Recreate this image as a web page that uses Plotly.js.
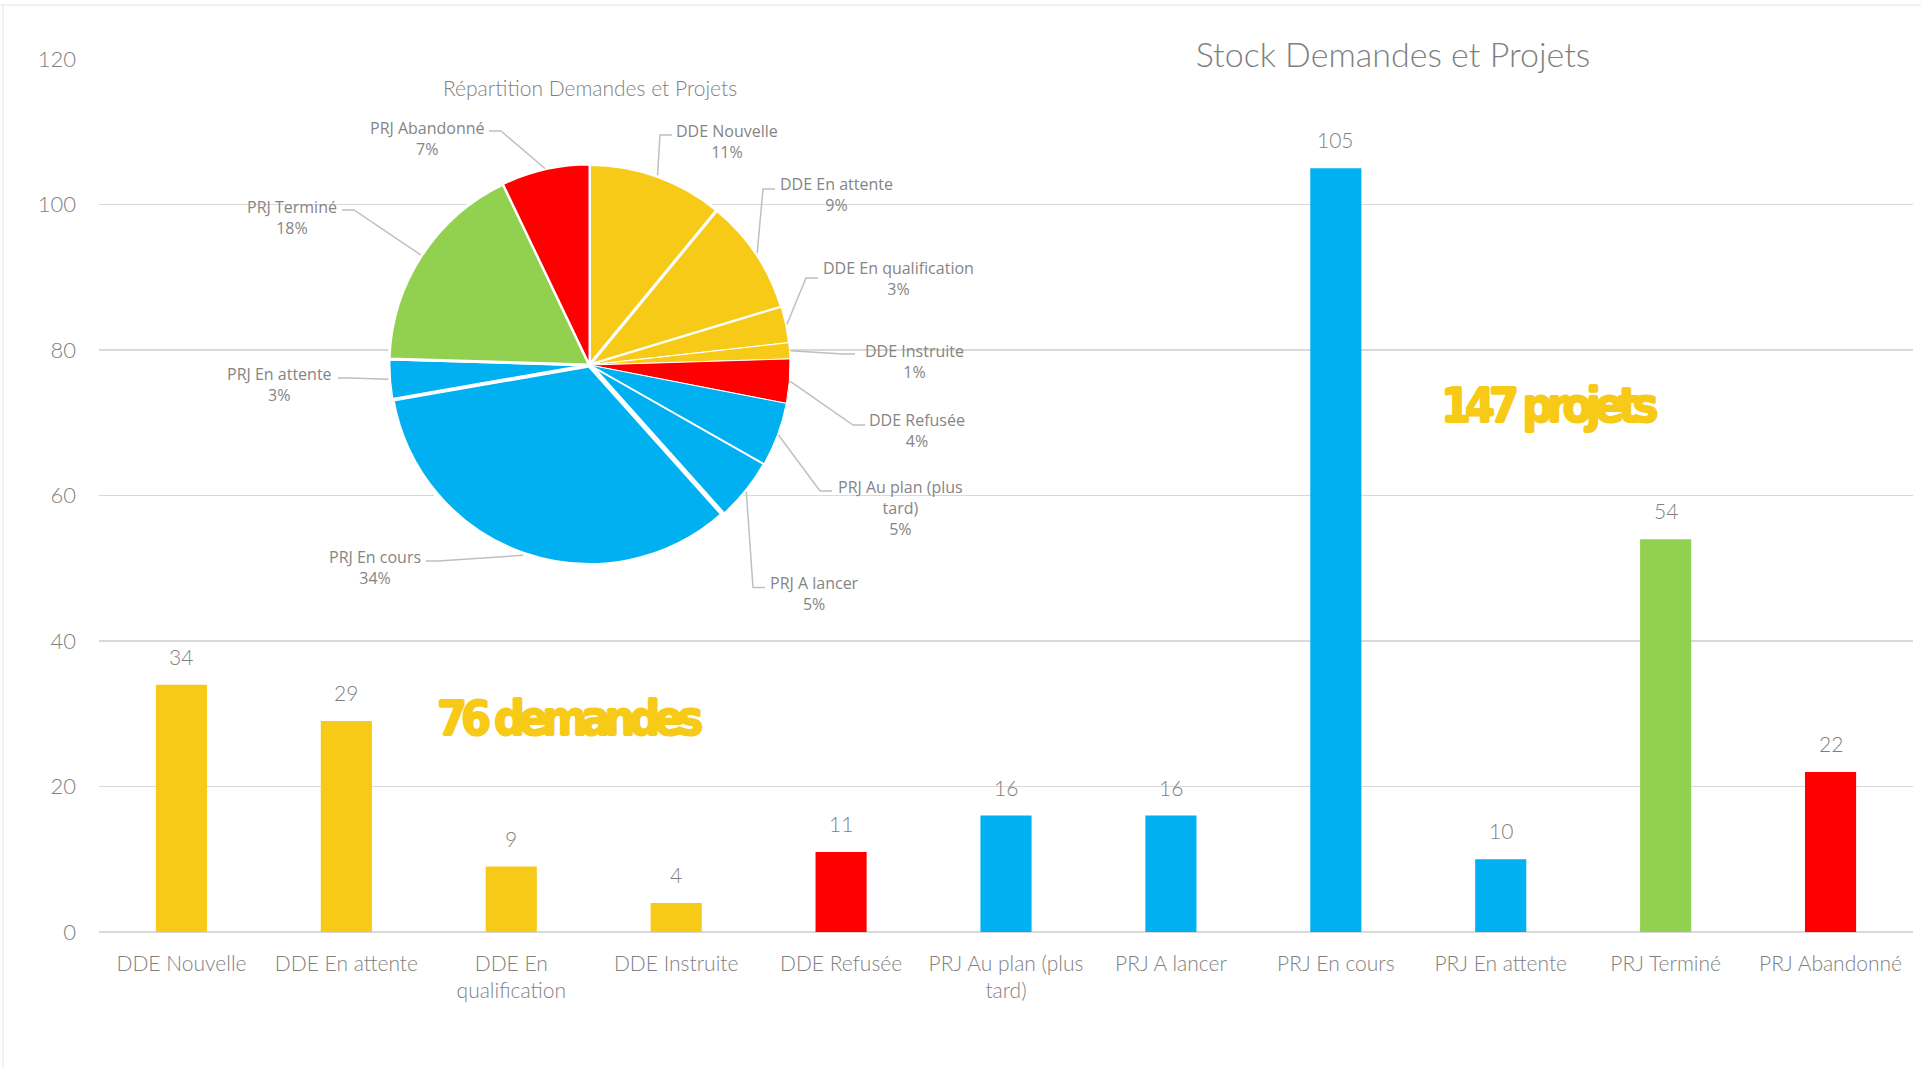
<!DOCTYPE html>
<html><head><meta charset="utf-8">
<script src="https://cdn.plot.ly/plotly-3.0.1.min.js"></script>
<style>html,body{margin:0;padding:0;background:#fff;overflow:hidden}#chart{width:1921px;height:1068px}</style>
</head><body><div id="chart"></div>
<script>
// ---------- data ----------
const categories = ["DDE Nouvelle","DDE En attente","DDE En qualification","DDE Instruite","DDE Refusée","PRJ Au plan (plus tard)","PRJ A lancer","PRJ En cours","PRJ En attente","PRJ Terminé","PRJ Abandonné"];
const tickLabels = ["DDE Nouvelle","DDE En attente","DDE En<br>qualification","DDE Instruite","DDE Refusée","PRJ Au plan (plus<br>tard)","PRJ A lancer","PRJ En cours","PRJ En attente","PRJ Terminé","PRJ Abandonné"];
const pieLabels = ["DDE Nouvelle","DDE En attente","DDE En qualification","DDE Instruite","DDE Refusée","PRJ Au plan (plus<br>tard)","PRJ A lancer","PRJ En cours","PRJ En attente","PRJ Terminé","PRJ Abandonné"];
const stock = [34,29,9,4,11,16,16,105,10,54,22];
const yTicks = [0,20,40,60,80,100,120];
const chartTitle = "Stock Demandes et Projets";
const pieTitle = "Répartition Demandes et Projets";
const demandesIdx = [0,1,2,3];
const projetsIdx = [5,6,7,8];

// ---------- styles / layout positions ----------
const YEL = "#F7CA18", BLU = "#00B0F0", RED = "#FF0000", GRN = "#92D050";
const barColors = [YEL,YEL,YEL,YEL,RED,BLU,BLU,BLU,BLU,GRN,RED];
const sliceLineWidths = [3,3,1.5,1,1,1,2,5,3,3,2];
const W = 1921, H = 1068;
const M = {l:99, r:8, t:59, b:136};
const PW = W - M.l - M.r, PH = H - M.t - M.b;
const px2x = p => (p - M.l) / PW;
const px2y = p => 1 - (p - M.t) / PH;
const pieC = [589.5, 365], pieR = 200.5;
// label block centres (px) and leader end points (px)
const pieLabelPos = [[727,141.5],[836,194.7],[898,278],[914,361],[917,430.6],[900,508],[814.5,593.7],[375.3,567.3],[279.5,384.5],[292.4,217.3],[427,138.3]];
const leaderEnds = [[672,135],[775,189],[818,278],[855,354],[865,425],[832,491],[765,587.5],[426,561],[338,378],[342,210],[489,131]];

const axisFont = {family:"Lato, 'Open Sans', sans-serif", size:21, color:"#7f7f7f", weight:300};
const total = stock.reduce((a,b)=>a+b,0);

// percentages rounded so that they sum to 100 (largest remainder, as the spreadsheet does)
function roundedPercents(vals){
  const raw = vals.map(v => v/total*100);
  const fl = raw.map(Math.floor);
  let left = 100 - fl.reduce((a,b)=>a+b,0);
  const order = raw.map((r,i)=>[r-fl[i], i]).sort((a,b)=>b[0]-a[0]);
  for (let k=0; k<left; k++) fl[order[k][1]] += 1;
  return fl;
}
const pcts = roundedPercents(stock);

const barTrace = {
  type:"bar", x:categories, y:stock, marker:{color:barColors}, hoverinfo:"x+y", showlegend:false
};
const pieTrace = {
  type:"pie", labels:categories, values:stock, sort:false, direction:"clockwise", rotation:0,
  marker:{colors:barColors, line:{color:"#ffffff", width:sliceLineWidths}},
  textinfo:"none", showlegend:false,
  domain:{x:[px2x(pieC[0]-pieR), px2x(pieC[0]+pieR)], y:[px2y(pieC[1]+pieR), px2y(pieC[1]-pieR)]}
};

const annotations = [];
const shapes = [];
// bar value labels
categories.forEach((c,i)=>{
  annotations.push({x:c, y:stock[i], xref:"x", yref:"y", text:String(stock[i]), showarrow:false,
    yanchor:"bottom", yshift:14, font:axisFont});
});
// pie labels + leader lines
let cum = 0;
stock.forEach((v,i)=>{
  const mid = 2*Math.PI*(cum + v/2)/total; cum += v;
  const ex = pieC[0] + (pieR+1)*Math.sin(mid), ey = pieC[1] - (pieR+1)*Math.cos(mid);
  const [lx,ly] = leaderEnds[i];
  const right = lx > pieC[0];
  const bx = right ? lx-12 : lx+12;
  shapes.push({type:"path", xref:"paper", yref:"paper", layer:"above",
    path:`M ${px2x(ex)},${px2y(ey)} L ${px2x(bx)},${px2y(ly)} L ${px2x(lx)},${px2y(ly)}`,
    line:{color:"#bfbfbf", width:1.5}});
  annotations.push({xref:"paper", yref:"paper", x:px2x(pieLabelPos[i][0]), y:px2y(pieLabelPos[i][1]),
    xanchor:"center", yanchor:"middle", align:"center", showarrow:false,
    text: pieLabels[i] + "<br>" + pcts[i] + "%",
    font:{family:"'Open Sans', sans-serif", size:16, color:"#858585"}});
});
// pie title
annotations.push({xref:"paper", yref:"paper", x:px2x(590), y:px2y(87), xanchor:"center", yanchor:"middle",
  showarrow:false, text:pieTitle, font:{family:"Lato, sans-serif", size:21, color:"#7f7f7f", weight:300}});
// summary labels
const sumD = demandesIdx.reduce((a,i)=>a+stock[i],0);
const sumP = projetsIdx.reduce((a,i)=>a+stock[i],0);
const bigFont = {family:"'DejaVu Sans Condensed', 'DejaVu Sans', sans-serif", size:48, color:YEL, weight:700,
  shadow:"1px 0 0 "+YEL+", -1px 0 0 "+YEL+", 0 1px 0 "+YEL+", 0 -1px 0 "+YEL};
const tight = s => '<span style="letter-spacing:-6px">' + s + '</span>';
annotations.push({xref:"paper", yref:"paper", x:px2x(569), y:px2y(718), xanchor:"center", yanchor:"middle",
  showarrow:false, text:tight(sumD+" demandes"), font:bigFont});
annotations.push({xref:"paper", yref:"paper", x:px2x(1549), y:px2y(405), xanchor:"center", yanchor:"middle",
  showarrow:false, text:tight(sumP+" projets"), font:bigFont});
// faint chart frame
shapes.push({type:"line", xref:"paper", yref:"paper", x0:px2x(0), x1:px2x(W), y0:px2y(5), y1:px2y(5), line:{color:"#eeeeee", width:1.5}, layer:"below"});
shapes.push({type:"line", xref:"paper", yref:"paper", x0:px2x(3), x1:px2x(3), y0:px2y(5), y1:px2y(H), line:{color:"#eeeeee", width:1.5}, layer:"below"});

const layout = {
  width:W, height:H, margin:M, paper_bgcolor:"#ffffff", plot_bgcolor:"#ffffff",
  font:{family:"Lato, sans-serif", color:"#7f7f7f"},
  title:{text:chartTitle, xref:"container", yref:"container", x:1393/W, xanchor:"center", y:1-55/H, yanchor:"middle",
    font:{family:"Lato, sans-serif", size:34, color:"#7f7f7f", weight:300}},
  bargap:0.69,
  xaxis:{type:"category", tickvals:categories, ticktext:tickLabels, tickfont:axisFont, showgrid:false, zeroline:false,
    showline:false, ticks:"", ticklabelstandoff:17, fixedrange:true},
  yaxis:{range:[0,120], tickvals:yTicks, tickfont:{...axisFont, size:22}, showgrid:true, gridcolor:"#d9d9d9", gridwidth:1.5,
    zeroline:true, zerolinecolor:"#d9d9d9", zerolinewidth:2, showline:false, ticks:"", ticklabelstandoff:22, fixedrange:true},
  annotations:annotations, shapes:shapes
};
Plotly.newPlot("chart", [barTrace, pieTrace], layout, {displayModeBar:false, staticPlot:true});
</script></body></html>
